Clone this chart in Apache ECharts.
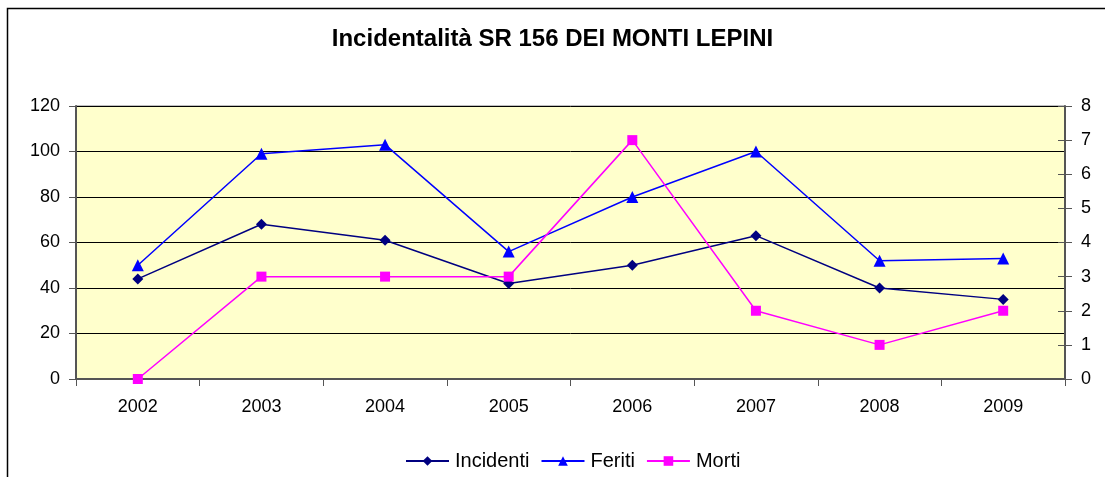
<!DOCTYPE html>
<html>
<head>
<meta charset="utf-8">
<script src="https://cdn.jsdelivr.net/npm/echarts@6/dist/echarts.min.js"></script>
<style>
  html, body { margin: 0; padding: 0; background: #fff; }
  #chart { width: 1105px; height: 477px; }
</style>
</head>
<body>
<div id="chart"></div>
<script>
const years = ['2002', '2003', '2004', '2005', '2006', '2007', '2008', '2009'];
const incidenti = [44, 68, 61, 42, 50, 63, 40, 35];
const feriti = [50, 99, 103, 56, 80, 100, 52, 53];
const morti = [0, 3, 3, 3, 7, 2, 1, 2];

const font = 'Arial, "Liberation Sans", sans-serif';
const chart = echarts.init(document.getElementById('chart'));

chart.setOption({
  animation: false,
  backgroundColor: '#fff',
  title: {
    text: 'Incidentalità SR 156 DEI MONTI LEPINI',
    left: 'center',
    top: 22,
    textStyle: { fontFamily: font, fontSize: 24, fontWeight: 'bold', color: '#000' }
  },
  graphic: [{
    type: 'rect',
    shape: { x: 7.5, y: 8.5, width: 1110, height: 480 },
    style: { fill: 'none', stroke: '#000', lineWidth: 1.5 },
    silent: true
  }],
  legend: {
    bottom: 1,
    left: 400,
    itemWidth: 43,
    itemHeight: 12,
    itemGap: 11,
    textStyle: { fontFamily: font, fontSize: 20, color: '#000', padding: [0, 0, 0, 1] },
    data: ['Incidenti', 'Feriti', 'Morti']
  },
  grid: {
    left: 76, right: 40, top: 106, bottom: 98,
    show: true,
    backgroundColor: '#FFFFCC',
    borderColor: '#808080',
    borderWidth: 1
  },
  xAxis: {
    type: 'category',
    data: years,
    boundaryGap: true,
    axisLine: { lineStyle: { color: '#555', width: 2 } },
    axisTick: { show: true, length: 7, lineStyle: { color: '#555' } },
    axisLabel: { fontFamily: font, fontSize: 18, color: '#000', margin: 19 }
  },
  yAxis: [{
    type: 'value',
    min: 0, max: 120, interval: 20,
    position: 'left',
    axisLine: { show: true, lineStyle: { color: '#555', width: 2 } },
    axisTick: { show: true, length: 7, lineStyle: { color: '#555' } },
    axisLabel: { fontFamily: font, fontSize: 18, color: '#000', margin: 16 },
    splitLine: { show: true, lineStyle: { color: '#000', width: 1 } }
  }, {
    type: 'value',
    min: 0, max: 8, interval: 1,
    position: 'right',
    axisLine: { show: true, lineStyle: { color: '#555', width: 2 } },
    axisTick: { show: true, length: 7, lineStyle: { color: '#555' } },
    axisLabel: { fontFamily: font, fontSize: 18, color: '#000', margin: 16 },
    splitLine: { show: false }
  }, {
    type: 'value',
    min: 0, max: 8, interval: 1,
    position: 'right',
    axisLine: { show: false },
    axisTick: { show: true, inside: true, length: 7, lineStyle: { color: '#555' } },
    axisLabel: { show: false },
    splitLine: { show: false }
  }],
  series: [{
    name: 'Incidenti',
    type: 'line',
    data: incidenti,
    yAxisIndex: 0,
    symbol: 'diamond',
    symbolSize: 11,
    color: '#000080',
    lineStyle: { color: '#000080', width: 1.5 },
    itemStyle: { color: '#000080' }
  }, {
    name: 'Feriti',
    type: 'line',
    data: feriti,
    yAxisIndex: 0,
    symbol: 'triangle',
    symbolSize: 12,
    color: '#0000FF',
    lineStyle: { color: '#0000FF', width: 1.5 },
    itemStyle: { color: '#0000FF' }
  }, {
    name: 'Morti',
    type: 'line',
    data: morti,
    yAxisIndex: 1,
    symbol: 'rect',
    symbolSize: 10,
    color: '#FF00FF',
    lineStyle: { color: '#FF00FF', width: 1.5 },
    itemStyle: { color: '#FF00FF' }
  }]
});
</script>
</body>
</html>
